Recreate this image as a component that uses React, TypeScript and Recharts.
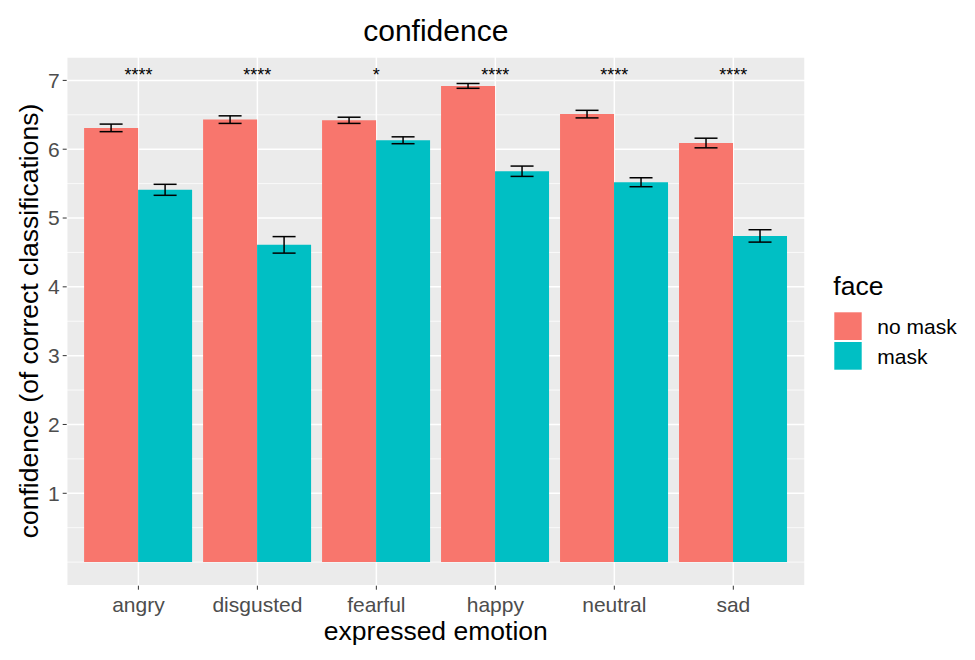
import {
  ComposedChart,
  Bar,
  ErrorBar,
  XAxis,
  YAxis,
  CartesianGrid,
  ReferenceDot,
} from 'recharts';

const EMOTIONS = ['angry', 'disgusted', 'fearful', 'happy', 'neutral', 'sad'];
const NO_MASK = [6.31, 6.43, 6.42, 6.92, 6.51, 6.09];
const NO_MASK_SE = [0.055, 0.055, 0.045, 0.035, 0.055, 0.07];
const MASK = [5.41, 4.61, 6.13, 5.68, 5.52, 4.74];
const MASK_SE = [0.08, 0.12, 0.05, 0.075, 0.065, 0.09];
const SIGNIF = ['****', '****', '*', '****', '****', '****'];
const STAR_LEVEL = 7.08;

const Y_TICKS = [1, 2, 3, 4, 5, 6, 7];
const Y_MINOR = [0, 0.5, 1.5, 2.5, 3.5, 4.5, 5.5, 6.5];
const Y_DOMAIN: [number, number] = [-0.343, 7.34];

const SERIES = [
  { key: 'noMask', label: 'no mask', color: '#F8766D' },
  { key: 'mask', label: 'mask', color: '#00BFC4' },
];

const FONT = '"Liberation Sans", Arial, sans-serif';

const data = EMOTIONS.map((emotion, i) => ({
  emotion,
  noMask: NO_MASK[i],
  noMaskSe: NO_MASK_SE[i],
  mask: MASK[i],
  maskSe: MASK_SE[i],
}));

export default function App() {
  return (
    <div style={{ position: 'absolute', left: 0, top: 0, width: 975, height: 660, background: '#fff', fontFamily: FONT }}>
      <ComposedChart
        width={975}
        height={660}
        data={data}
        margin={{ top: 57, right: 170, bottom: 0, left: 0 }}
        barCategoryGap={5.2}
        barGap={0}
      >
        <CartesianGrid
          fill="#EBEBEB"
          stroke="#FFFFFF"
          strokeWidth={0.75}
          vertical={false}
          horizontalValues={Y_MINOR}
        />
        <CartesianGrid stroke="#FFFFFF" strokeWidth={1.5} />
        <XAxis
          dataKey="emotion"
          height={74.3}
          padding={{ left: 12.2, right: 12.2 }}
          axisLine={false}
          tickSize={4}
          tickMargin={7}
          tickLine={{ stroke: '#333333', strokeWidth: 1 }}
          tick={{ fill: '#4D4D4D', fontSize: 21, fontFamily: FONT }}
          interval={0}
        />
        <YAxis
          type="number"
          width={66.7}
          domain={Y_DOMAIN}
          ticks={Y_TICKS}
          allowDataOverflow
          axisLine={false}
          tickSize={4}
          tickMargin={3}
          tickLine={{ stroke: '#333333', strokeWidth: 1 }}
          tick={{ fill: '#4D4D4D', fontSize: 21, fontFamily: FONT }}
        />
        {SERIES.map((s) => (
          <Bar key={s.key} dataKey={s.key} fill={s.color} isAnimationActive={false}>
            <ErrorBar
              dataKey={`${s.key}Se`}
              width={11.5}
              stroke="#000000"
              strokeWidth={1.5}
              direction="y"
              isAnimationActive={false}
            />
          </Bar>
        ))}
        {EMOTIONS.map((emotion, i) => (
          <ReferenceDot
            key={emotion}
            x={emotion}
            y={STAR_LEVEL}
            r={0}
            fill="none"
            stroke="none"
            label={{ value: SIGNIF[i], position: 'center', fontSize: 18, fill: '#000000', fontFamily: FONT }}
          />
        ))}
      </ComposedChart>

      <svg
        width={975}
        height={660}
        style={{ position: 'absolute', left: 0, top: 0, pointerEvents: 'none', fontFamily: FONT }}
      >
        <text x={435.8} y={40.7} textAnchor="middle" fontSize={30} fill="#000">
          confidence
        </text>
        <text x={435.8} y={639.5} textAnchor="middle" fontSize={26.5} fill="#000">
          expressed emotion
        </text>
        <text
          x={0}
          y={0}
          transform="translate(38,321) rotate(-90)"
          textAnchor="middle"
          fontSize={26.5}
          fill="#000"
        >
          confidence (of correct classifications)
        </text>
        <text x={833.3} y={295} fontSize={26.5} fill="#000">
          face
        </text>
        {SERIES.map((s, i) => (
          <g key={s.key}>
            <rect x={834.3} y={312.3 + i * 29.7} width={27.4} height={27.7} fill={s.color} />
            <text x={877.3} y={334 + i * 29.7} fontSize={21} fill="#000">
              {s.label}
            </text>
          </g>
        ))}
      </svg>
    </div>
  );
}
